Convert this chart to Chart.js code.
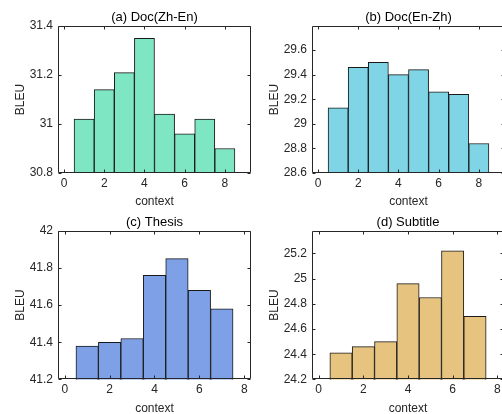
<!DOCTYPE html>
<html>
<head>
<meta charset="utf-8">
<script src="https://cdn.jsdelivr.net/npm/chart.js@4/dist/chart.umd.min.js"></script>
<style>
  html, body { margin: 0; padding: 0; background: #ffffff; overflow: hidden; width: 502px; height: 414px; }
  .panel { position: absolute; }
</style>
</head>
<body>
<div class="panel" style="left:0px;top:0px;width:256px;height:209px;"><canvas id="cA"></canvas></div>
<div class="panel" style="left:254px;top:0px;width:262px;height:209px;"><canvas id="cB"></canvas></div>
<div class="panel" style="left:0px;top:207px;width:256px;height:209px;"><canvas id="cC"></canvas></div>
<div class="panel" style="left:254px;top:207px;width:262px;height:209px;"><canvas id="cD"></canvas></div>
<script>
// ---- data ----
const contexts8 = [1, 2, 3, 4, 5, 6, 7, 8];
const contexts7 = [1, 2, 3, 4, 5, 6, 7];
const bleuZhEn = [31.02, 31.14, 31.21, 31.35, 31.04, 30.96, 31.02, 30.90];
const bleuEnZh = [29.13, 29.46, 29.50, 29.40, 29.44, 29.26, 29.24, 28.84];
const bleuThesis = [41.38, 41.40, 41.42, 41.76, 41.85, 41.68, 41.58];
const bleuSubtitle = [24.41, 24.46, 24.50, 24.96, 24.85, 25.22, 24.70];

const xTicks = [0, 2, 4, 6, 8];
const xTickLabels = ['0', '2', '4', '6', '8'];
const yTicksA = [30.8, 31, 31.2, 31.4];
const yTickLabelsA = ['30.8', '31', '31.2', '31.4'];
const yTicksB = [28.6, 28.8, 29, 29.2, 29.4, 29.6];
const yTickLabelsB = ['28.6', '28.8', '29', '29.2', '29.4', '29.6'];
const yTicksC = [41.2, 41.4, 41.6, 41.8, 42];
const yTickLabelsC = ['41.2', '41.4', '41.6', '41.8', '42'];
const yTicksD = [24.2, 24.4, 24.6, 24.8, 25, 25.2];
const yTickLabelsD = ['24.2', '24.4', '24.6', '24.8', '25', '25.2'];

const titles = ['(a) Doc(Zh-En)', '(b) Doc(En-Zh)', '(c) Thesis', '(d) Subtitle'];
const xTitle = 'context';
const yTitle = 'BLEU';

// ---- styling ----
const AX = '#262626';
const FONT = 'Liberation Sans, Arial, Helvetica, sans-serif';

const boxPlugin = {
  id: 'matlabBox',
  afterDatasetsDraw(chart) {
    const {ctx, chartArea: a, scales} = chart;
    ctx.save();
    ctx.strokeStyle = AX;
    ctx.lineWidth = 1;
    const L = Math.round(a.left) + 0.5, R = Math.round(a.right) - 0.5;
    const T = Math.round(a.top) + 0.5, B = Math.round(a.bottom) - 0.5;
    ctx.beginPath();
    ctx.rect(L, T, R - L, B - T);
    ctx.stroke();
    const tl = 3;
    ctx.beginPath();
    scales.x.ticks.forEach(t => {
      const px = Math.round(scales.x.getPixelForValue(t.value)) + 0.5;
      ctx.moveTo(px, B); ctx.lineTo(px, B - tl);
      ctx.moveTo(px, T); ctx.lineTo(px, T + tl);
    });
    scales.y.ticks.forEach(t => {
      const py = Math.round(scales.y.getPixelForValue(t.value)) + 0.5;
      ctx.moveTo(L, py); ctx.lineTo(L + tl, py);
      ctx.moveTo(R, py); ctx.lineTo(R - tl, py);
    });
    ctx.stroke();
    ctx.restore();
  }
};

function makePanel(id, title, xs, ys, color, xMin, xMax, yMin, yMax, yTicks, yLabels, opt) {
  const pts = xs.map((x, i) => ({x: x, y: ys[i]}));
  return new Chart(document.getElementById(id), {
    type: 'bar',
    data: {
      datasets: [{
        data: pts,
        backgroundColor: color,
        borderColor: '#1a1a1a',
        borderWidth: 1,
        borderSkipped: 'start',
        barPercentage: 1,
        categoryPercentage: 1
      }]
    },
    options: {
      responsive: true,
      maintainAspectRatio: false,
      animation: false,
      layout: {padding: {left: 0, right: opt.padRight, top: 0, bottom: 0}},
      plugins: {
        legend: {display: false},
        tooltip: {enabled: false},
        title: {
          display: true,
          text: title,
          fullSize: false,
          color: '#000',
          font: {family: FONT, size: 13, weight: 'normal', lineHeight: 1.2},
          padding: {top: opt.titleTop, bottom: opt.titleBottom}
        }
      },
      scales: {
        x: {
          type: 'linear',
          min: xMin, max: xMax,
          offset: false,
          grid: {display: false, drawTicks: false},
          border: {display: false},
          afterBuildTicks: s => { s.ticks = xTicks.map(v => ({value: v})); },
          afterFit: s => { s.height = opt.xHeight; },
          ticks: {
            color: AX, padding: 3, maxRotation: 0, autoSkip: false,
            font: {family: FONT, size: 12},
            callback: (v, i) => xTickLabels[i]
          },
          title: {
            display: true, text: xTitle, color: AX,
            font: {family: FONT, size: 12, lineHeight: 1.2},
            padding: {top: 0, bottom: 0}
          }
        },
        y: {
          type: 'linear',
          min: yMin, max: yMax,
          grid: {display: false, drawTicks: false},
          border: {display: false},
          afterBuildTicks: s => { s.ticks = yTicks.map(v => ({value: v})); },
          afterFit: s => { s.width = 58; },
          ticks: {
            color: AX, padding: 5, autoSkip: false,
            font: {family: FONT, size: 12},
            callback: (v, i) => yLabels[i]
          },
          title: {
            display: true, text: yTitle, color: AX,
            font: {family: FONT, size: 12, lineHeight: 1.2},
            padding: {top: 13, bottom: 0}
          }
        }
      }
    },
    plugins: [boxPlugin]
  });
}

const topOpt = {padRight: 5, titleTop: 10, titleBottom: 0.4, xHeight: 36};
const topOptR = {padRight: 11, titleTop: 10, titleBottom: 0.4, xHeight: 36};
const botOpt = {padRight: 5, titleTop: 8, titleBottom: 0.2, xHeight: 36.6};
const botOptR = {padRight: 12, titleTop: 8, titleBottom: 0.2, xHeight: 36.6};

makePanel('cA', titles[0], contexts8, bleuZhEn, '#7fe6c4', -0.3, 9.3, 30.8, 31.4, yTicksA, yTickLabelsA, topOpt);
makePanel('cB', titles[1], contexts8, bleuEnZh, '#7fd5e6', -0.3, 9.3, 28.6, 29.795, yTicksB, yTickLabelsB, topOptR);
makePanel('cC', titles[2], contexts7, bleuThesis, '#7ea0e6', -0.3, 8.3, 41.2, 42, yTicksC, yTickLabelsC, botOpt);
makePanel('cD', titles[3], contexts7, bleuSubtitle, '#e6c47f', -0.3, 8.3, 24.2, 25.38, yTicksD, yTickLabelsD, botOptR);
</script>
</body>
</html>
